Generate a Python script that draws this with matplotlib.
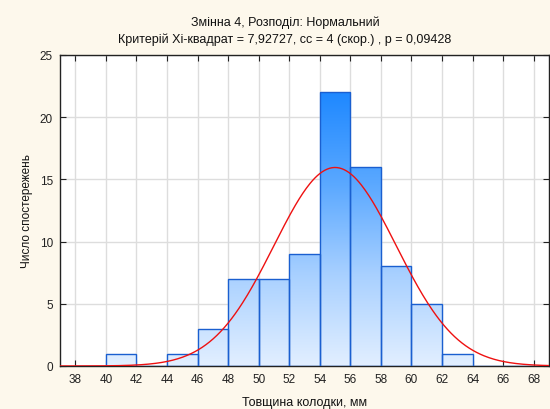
import numpy as np
import matplotlib
matplotlib.use("Agg")
import matplotlib.pyplot as plt
from matplotlib.colors import LinearSegmentedColormap

plt.rcParams['font.family'] = ['Liberation Sans', 'DejaVu Sans']

bin_edges = [38, 40, 42, 44, 46, 48, 50, 52, 54, 56, 58, 60, 62, 64, 66, 68]
counts = [0, 1, 0, 1, 3, 7, 7, 9, 22, 16, 8, 5, 1, 0, 0]
fit_mean = 55.0
fit_sd = 4.0
n_obs = 80
x_ticks = [38, 40, 42, 44, 46, 48, 50, 52, 54, 56, 58, 60, 62, 64, 66, 68]
y_ticks = [0, 5, 10, 15, 20, 25]
title1 = "Змінна 4, Розподіл: Нормальний"
title2 = "Критерій Хі-квадрат = 7,92727, сс = 4 (скор.) , р = 0,09428"
xlabel = "Товщина колодки, мм"
ylabel = "Число спостережень"

fig = plt.figure(figsize=(5.5, 4.1), dpi=100, facecolor='#fdf8ec')
ax = fig.add_axes([60/550, 1-367/410, (549-60)/550, (367-56)/410])
ax.set_facecolor('white')

xlim = (37.0, 69.0)
ylim = (0, 25)
ax.set_xlim(*xlim)
ax.set_ylim(*ylim)

lefts = np.array(bin_edges[:-1])
widths = np.diff(bin_edges)
bars = ax.bar(lefts, counts, width=widths, align='edge',
              facecolor='none', edgecolor='#1a5fd0', linewidth=1.0, zorder=3)

cmap = LinearSegmentedColormap.from_list('g', ['#e2efff', '#a8d0ff', '#5aa8ff', '#1e88ff'])
grad = np.linspace(0, 1, 256).reshape(-1, 1)
top = max(counts)
for b in bars:
    if b.get_height() <= 0:
        continue
    im = ax.imshow(grad, extent=[xlim[0], xlim[1], 0, top], origin='lower',
                   cmap=cmap, aspect='auto', zorder=2, interpolation='bicubic')
    im.set_clip_path(b)
ax.set_xlim(*xlim)
ax.set_ylim(*ylim)

xs = np.linspace(xlim[0], xlim[1], 400)
binw = 2.0
ys = n_obs * binw / (fit_sd * np.sqrt(2*np.pi)) * np.exp(-0.5*((xs-fit_mean)/fit_sd)**2)
ax.plot(xs, ys, color='#ee1111', linewidth=1.0, zorder=4)

ax.set_xticks(x_ticks)
ax.set_yticks(y_ticks)
ax.grid(True, color='#dddddd', linewidth=1.0, zorder=0)
ax.set_axisbelow(True)
ax.tick_params(direction='in', top=True, right=True, length=4, width=0.8,
               labelsize=8.5, colors='#222222', pad=5)
for s in ax.spines.values():
    s.set_color('#222222')
    s.set_linewidth(1.0)

fig.text(285/550, 1-26/410, title1, ha='center', va='baseline', fontsize=9, color='#111111')
fig.text(285/550, 1-43/410, title2, ha='center', va='baseline', fontsize=9, color='#111111')
fig.text(304.5/550, 1-406/410, xlabel, ha='center', va='baseline', fontsize=9, color='#111111')
fig.text(27/550, 1-211/410, ylabel, ha='center', va='center', fontsize=8.5, color='#111111', rotation=90)

fig.savefig('out.png', dpi=100, facecolor=fig.get_facecolor())
